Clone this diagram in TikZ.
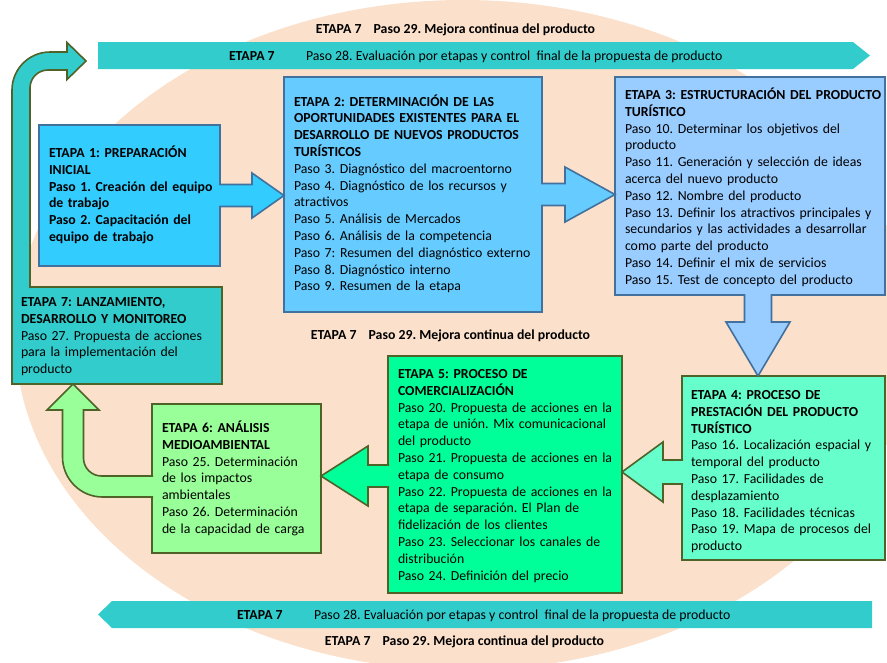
\documentclass[tikz,border=0pt]{standalone}
\usepackage{fontspec}
\setmainfont{Carlito}
\usetikzlibrary{calc}
\definecolor{peach}{RGB}{251,224,203}
\definecolor{teal7}{RGB}{51,204,204}
\definecolor{cA}{RGB}{51,204,255}
\definecolor{cB}{RGB}{102,204,255}
\definecolor{cC}{RGB}{153,204,255}
\definecolor{cD}{RGB}{102,255,204}
\definecolor{cE}{RGB}{0,255,153}
\definecolor{cF}{RGB}{153,255,153}
\definecolor{bblue}{RGB}{65,113,156}
\definecolor{bolive}{RGB}{79,98,40}
\newcommand\bxfont{\fontsize{13.8}{16.8}\selectfont}
\frenchspacing
\begin{document}
\frenchspacing
\begin{tikzpicture}[x=1pt,y=-1pt,
  box/.style={draw, line width=1.6pt, anchor=north west, inner sep=0pt, outer sep=0pt},
  bluebox/.style={box, draw=bblue},
  olivebox/.style={box, draw=bolive},
  txt/.style={anchor=base west, inner sep=0pt, outer sep=0pt, text width=290pt, align=left, font=\bxfont},
  lbl/.style={anchor=base west, inner sep=0pt, outer sep=0pt, font=\bxfont},
  clbl/.style={anchor=base, inner sep=0pt, outer sep=0pt, font=\bxfont\bfseries},
  barrow/.style={line width=1.6pt, line join=miter},
]
\useasboundingbox (0,0) rectangle (887,662);
% background ellipse
\fill[peach] (463,335) ellipse [x radius=448pt, y radius=335pt];

% banners
\fill[teal7] (98,42) -- (853,42) -- (870,55.5) -- (853,69) -- (98,69) -- cycle;
\fill[teal7] (112,601) -- (872,601) -- (872,628) -- (112,628) -- (98,614.5) -- cycle;
\node[lbl, font=\bxfont\bfseries] (e28a) at (229,60.5) {ETAPA 7};
\node[lbl] (p28a) at (306,60.5) {Paso 28. Evaluación por etapas y control~ final de la propuesta de producto};
\node[lbl, font=\bxfont\bfseries] (e28b) at (237,619) {ETAPA 7};
\node[lbl] (p28b) at (314,619) {Paso 28. Evaluación por etapas y control~ final de la propuesta de producto};

\node[clbl] (p29a) at (455.5,33.5) {ETAPA 7\hspace{12pt}Paso 29. Mejora continua del producto};
\node[clbl] (p29b) at (450.5,339.5) {ETAPA 7\hspace{12pt}Paso 29. Mejora continua del producto};
\node[clbl] (p29c) at (464.5,645.5) {ETAPA 7\hspace{12pt}Paso 29. Mejora continua del producto};

% boxes
\node[bluebox, fill=cA, minimum width=181pt, minimum height=141pt] (b1) at (39,125) {};
\node[bluebox, fill=cB, minimum width=258pt, minimum height=235pt] (b2) at (284,77) {};
\node[bluebox, fill=cC, minimum width=270pt, minimum height=218pt] (b3) at (615,77) {};
\node[olivebox, fill=cD, minimum width=203pt, minimum height=184pt] (b4) at (682,376) {};
\node[olivebox, fill=cE, minimum width=234pt, minimum height=237pt] (b5) at (388,356) {};
\node[olivebox, fill=cF, minimum width=169pt, minimum height=149pt] (b6) at (152,404) {};
\node[olivebox, fill=teal7, minimum width=210pt, minimum height=97pt] (b7) at (12,287) {};

% arrow 1 -> 2
\coordinate (a12t) at (b2.west |- b1.east);
\filldraw[barrow, fill=cA, draw=bblue] ($(b1.east)+(-1,-11)$) -- ($(a12t)+(-32,-11)$) -- ($(a12t)+(-32,-22.5)$) -- (a12t) -- ($(a12t)+(-32,22.5)$) -- ($(a12t)+(-32,11)$) -- ($(b1.east)+(-1,11)$);
% arrow 2 -> 3
\coordinate (a23t) at (b3.west |- b2.east);
\filldraw[barrow, fill=cB, draw=bblue] ($(b2.east)+(-1,-11)$) -- ($(a23t)+(-50,-11)$) -- ($(a23t)+(-50,-27.5)$) -- (a23t) -- ($(a23t)+(-50,27.5)$) -- ($(a23t)+(-50,11)$) -- ($(b2.east)+(-1,11)$);
% arrow 3 -> 4
\coordinate (a34s) at ($(b3.south)+(8,0)$);
\coordinate (a34t) at (a34s |- b4.north);
\filldraw[barrow, fill=cC, draw=bblue] ($(a34s)+(-13.5,-1)$) -- ($(a34t)+(-13.5,-54)$) -- ($(a34t)+(-32,-54)$) -- (a34t) -- ($(a34t)+(32,-54)$) -- ($(a34t)+(13.5,-54)$) -- ($(a34s)+(13.5,-1)$);
% arrow 4 -> 5
\coordinate (a45s) at ($(b4.west)+(0,4)$);
\coordinate (a45t) at (b5.east |- a45s);
\filldraw[barrow, fill=cD, draw=bolive] ($(a45s)+(1,-12)$) -- ($(a45t)+(41,-12)$) -- ($(a45t)+(41,-30)$) -- (a45t) -- ($(a45t)+(41,30)$) -- ($(a45t)+(41,12)$) -- ($(a45s)+(1,12)$);
% arrow 5 -> 6
\coordinate (a56s) at ($(b5.west)+(0,1.5)$);
\coordinate (a56t) at (b6.east |- a56s);
\filldraw[barrow, fill=cE, draw=bolive] ($(a56s)+(1,-11)$) -- ($(a56t)+(47,-11)$) -- ($(a56t)+(47,-30)$) -- (a56t) -- ($(a56t)+(47,30)$) -- ($(a56t)+(47,11)$) -- ($(a56s)+(1,11)$);
% arrow 6 -> 7 (bent)
\coordinate (a67s) at ($(b6.west)+(0,8)$);
\coordinate (a67t) at ($(b7.south west)+(61,0)$);
\coordinate (a67c) at (a67t |- a67s);
\coordinate (o1) at ($(a67c)+(-10.5,10.5)$);
\coordinate (i1) at ($(a67c)+(10.5,-10.5)$);
\filldraw[barrow, fill=cF, draw=bolive] ($(a67s)+(1,10.5)$) -- ($(o1)+(40,0)$) .. controls ($(o1)+(18,0)$) and ($(o1)+(0,-18)$) .. ($(o1)+(0,-40)$) -- ($(a67t)+(-10.5,26)$) -- ($(a67t)+(-26,26)$) -- (a67t) -- ($(a67t)+(26,26)$) -- ($(a67t)+(10.5,26)$) -- ($(i1)+(0,-18)$) .. controls ($(i1)+(0,-8)$) and ($(i1)+(8,0)$) .. ($(i1)+(18,0)$) -- ($(a67s)+(1,-10.5)$);
% arrow 7 -> top banner (bent)
\coordinate (a7s) at ($(b7.north west)+(9,0)$);
\coordinate (a7t) at (86,61);
\coordinate (a7c) at (a7s |- a7t);
\coordinate (o2) at ($(a7c)+(-9,-9)$);
\coordinate (i2) at ($(a7c)+(9,9)$);
\filldraw[barrow, fill=teal7, draw=bolive] ($(a7s)+(-9,1)$) -- ($(o2)+(0,38)$) .. controls ($(o2)+(0,17)$) and ($(o2)+(17,0)$) .. ($(o2)+(38,0)$) -- ($(a7t)+(-19,-9)$) -- ($(a7t)+(-19,-18.5)$) -- (a7t) -- ($(a7t)+(-19,18.5)$) -- ($(a7t)+(-19,9)$) -- ($(i2)+(18,0)$) .. controls ($(i2)+(8,0)$) and ($(i2)+(0,8)$) .. ($(i2)+(0,18)$) -- ($(a7s)+(9,1)$);

% box texts
\node[txt, font=\bxfont\bfseries] (t1) at (49,157.5) {ETAPA 1: PREPARACIÓN\\INICIAL\\Paso 1. Creación del equipo\\de trabajo\\Paso 2. Capacitación del\\equipo de trabajo};
\node[txt] (t2) at (294,106) {\textbf{ETAPA 2: DETERMINACIÓN DE LAS}\\\textbf{OPORTUNIDADES EXISTENTES PARA EL}\\\textbf{DESARROLLO DE NUEVOS PRODUCTOS}\\\textbf{TURÍSTICOS}\\Paso 3. Diagnóstico del macroentorno\\Paso 4. Diagnóstico de los recursos y\\atractivos\\Paso 5. Análisis de Mercados\\Paso 6. Análisis de la competencia\\Paso 7: Resumen del diagnóstico externo\\Paso 8. Diagnóstico interno\\Paso 9. Resumen de la etapa};
\node[txt] (t3) at (625,99.5) {\textbf{ETAPA 3: ESTRUCTURACIÓN DEL PRODUCTO}\\\textbf{TURÍSTICO}\\Paso 10. Determinar los objetivos del\\producto\\Paso 11. Generación y selección de ideas\\acerca del nuevo producto\\Paso 12. Nombre del producto\\Paso 13. Definir los atractivos principales y\\secundarios y las actividades a desarrollar\\como parte del producto\\Paso 14. Definir el mix de servicios\\Paso 15. Test de concepto del producto};
\node[txt] (t4) at (691,399.5) {\textbf{ETAPA 4: PROCESO DE}\\\textbf{PRESTACIÓN DEL PRODUCTO}\\\textbf{TURÍSTICO}\\Paso 16. Localización espacial y\\temporal del producto\\Paso 17. Facilidades de\\desplazamiento\\Paso 18. Facilidades técnicas\\Paso 19. Mapa de procesos del\\producto};
\node[txt] (t5) at (398,378.5) {\textbf{ETAPA 5: PROCESO DE}\\\textbf{COMERCIALIZACIÓN}\\Paso 20. Propuesta de acciones en la\\etapa de unión. Mix comunicacional\\del producto\\Paso 21. Propuesta de acciones en la\\etapa de consumo\\Paso 22. Propuesta de acciones en la\\etapa de separación. El Plan de\\fidelización de los clientes\\Paso 23. Seleccionar los canales de\\distribución\\Paso 24. Definición del precio};
\node[txt] (t6) at (162,432.5) {\textbf{ETAPA 6: ANÁLISIS}\\\textbf{MEDIOAMBIENTAL}\\Paso 25. Determinación\\de los impactos\\ambientales\\Paso 26. Determinación\\de la capacidad de carga};
\node[txt] (t7) at (21,306.5) {\textbf{ETAPA 7: LANZAMIENTO,}\\\textbf{DESARROLLO Y MONITOREO}\\Paso 27. Propuesta de acciones\\para la implementación del\\producto};
\end{tikzpicture}
\end{document}
